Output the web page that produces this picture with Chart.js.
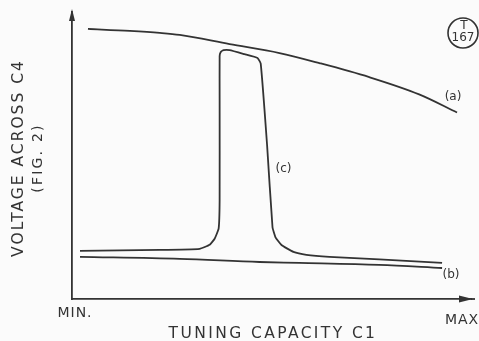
<!DOCTYPE html>
<html>
<head>
<meta charset="utf-8">
<script src="https://cdn.jsdelivr.net/npm/chart.js@4/dist/chart.umd.min.js"></script>
<style>
html, body { margin:0; padding:0; background:#fbfbfb; }
#wrap { width:479px; height:341px; position:relative; }
</style>
</head>
<body>
<div id="wrap"><canvas id="c"></canvas></div>
<script>
/* curve (a) - voltage falls off slowly towards max capacity */
let aX = [4, 14.5, 22, 27, 39.5, 52, 62, 74.5, 87, 96.5];
let aY = [94.1, 93.4, 92.7, 92.0, 88.8, 85.7, 82.2, 77.3, 71.3, 65.0];

/* curve (b) - nearly flat low line */
let bX = [2, 27, 47, 57, 77, 92.75];
let bY = [14.7, 14.0, 12.9, 12.6, 11.9, 10.8];

/* curve (c) - sharp resonance peak */
let cX = [2, 22, 32, 34.5, 35.75, 36.75, 37, 37, 37, 37.25, 38, 39.5, 43.25, 46.5, 47.3, 48.9, 50.25, 51.0, 52.5, 55.5, 58.75, 64.5, 77, 92.75];
let cY = [16.8, 17.1, 17.5, 18.9, 21.0, 24.5, 34.3, 69.2, 84.6, 86.0, 86.7, 86.7, 85.3, 84.0, 82.0, 53.5, 25.0, 21.5, 18.8, 16.4, 15.4, 14.7, 13.8, 12.6];

let curveNames = ['(a)', '(b)', '(c)'];
let labelX = [95.5, 95, 53];
let labelY = [70.5, 8.4, 45.5];

let xEnds = ['MIN.', 'MAX'];
let xTitle = 'TUNING CAPACITY C1';
let yTitle = 'VOLTAGE ACROSS C4';
let yTitle2 = '(FIG. 2)';

let ink = '#333333';
let font = '"DejaVu Sans", sans-serif';

function pts(xs, ys) {
  return xs.map((x, i) => ({x: x, y: ys[i]}));
}

function ds(xs, ys, smooth) {
  let d = {
    data: pts(xs, ys),
    borderColor: ink,
    borderWidth: 1.8,
    pointRadius: 0,
    fill: false
  };
  if (smooth) d.cubicInterpolationMode = 'monotone';
  else d.tension = 0.12;
  return d;
}

/* arrows, labels and lettering */
const decor = {
  id: 'decor',
  afterDraw(chart) {
    const ctx = chart.ctx;
    const xs = chart.scales.x, ys = chart.scales.y;
    const a = chart.chartArea;
    ctx.save();
    ctx.fillStyle = ink;
    ctx.strokeStyle = ink;

    // y arrow
    ctx.beginPath();
    ctx.moveTo(a.left, a.top - 3);
    ctx.lineTo(a.left - 3, a.top + 9);
    ctx.lineTo(a.left + 3, a.top + 9);
    ctx.closePath();
    ctx.fill();
    // x axis extension + arrow
    ctx.lineWidth = 1.8;
    ctx.beginPath();
    ctx.moveTo(a.right, a.bottom);
    ctx.lineTo(a.right + 4, a.bottom);
    ctx.stroke();
    ctx.beginPath();
    ctx.moveTo(a.right + 2, a.bottom);
    ctx.lineTo(a.right - 12, a.bottom - 3.5);
    ctx.lineTo(a.right - 12, a.bottom + 3.5);
    ctx.closePath();
    ctx.fill();

    // curve labels
    ctx.font = '12px ' + font;
    ctx.textAlign = 'center';
    ctx.textBaseline = 'middle';
    curveNames.forEach((n, i) => {
      ctx.fillText(n, xs.getPixelForValue(labelX[i]), ys.getPixelForValue(labelY[i]));
    });

    // ends of x axis
    ctx.font = '14px ' + font;
    ctx.letterSpacing = '1px';
    ctx.fillText(xEnds[0], 75, 313);
    ctx.fillText(xEnds[1], 462, 320);

    ctx.font = '15.5px ' + font;
    ctx.letterSpacing = '2.4px';
    ctx.fillText(xTitle, 273, 334);

    // y titles
    ctx.save();
    ctx.translate(19, 158);
    ctx.rotate(-Math.PI / 2);
    ctx.font = '15.5px ' + font;
    ctx.letterSpacing = '2px';
    ctx.fillText(yTitle, 0, 0);
    ctx.restore();
    ctx.save();
    ctx.translate(38, 158);
    ctx.rotate(-Math.PI / 2);
    ctx.font = '14px ' + font;
    ctx.letterSpacing = '2.2px';
    ctx.fillText(yTitle2, 0, 0);
    ctx.restore();

    // circled figure tag
    ctx.letterSpacing = '0px';
    ctx.lineWidth = 1.6;
    ctx.beginPath();
    ctx.arc(463, 33, 15, 0, Math.PI * 2);
    ctx.stroke();
    ctx.font = '12px ' + font;
    ctx.fillText('T', 464, 26);
    ctx.fillText('167', 463, 38);
    ctx.restore();
  }
};

new Chart(document.getElementById('c'), {
  type: 'line',
  data: {
    datasets: [ds(aX, aY, true), ds(bX, bY, true), ds(cX, cY, false)]
  },
  options: {
    responsive: true,
    maintainAspectRatio: false,
    animation: false,
    layout: { padding: { left: 72, right: 8, top: 12, bottom: 42 } },
    plugins: { legend: { display: false }, tooltip: { enabled: false } },
    scales: {
      x: {
        type: 'linear', min: 0, max: 100,
        grid: { display: false, drawTicks: false },
        ticks: { display: false },
        border: { display: true, color: ink, width: 1.8 }
      },
      y: {
        type: 'linear', min: 0, max: 100,
        grid: { display: false, drawTicks: false },
        ticks: { display: false },
        border: { display: true, color: ink, width: 1.8 }
      }
    }
  },
  plugins: [decor]
});
</script>
</body>
</html>
